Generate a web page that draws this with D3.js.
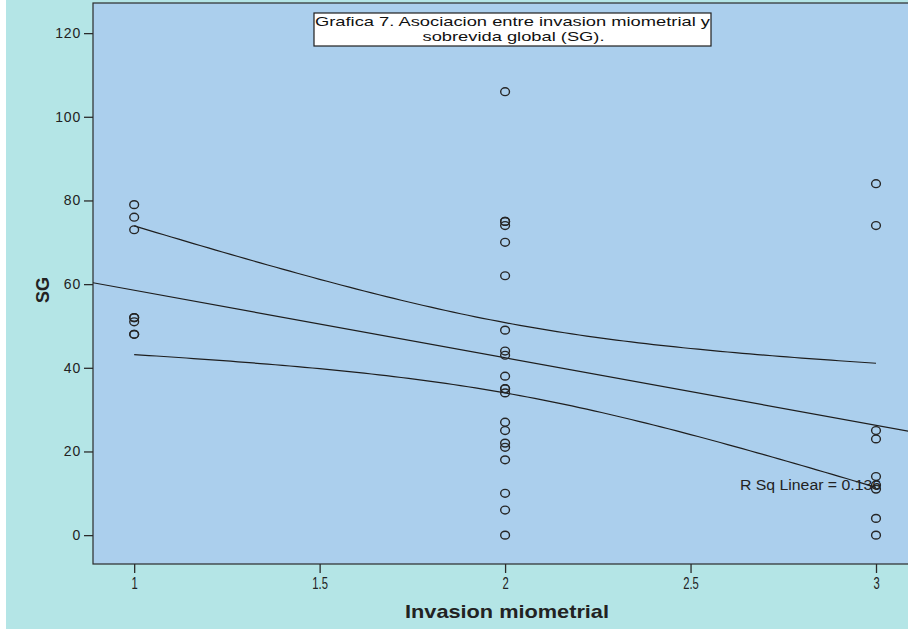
<!DOCTYPE html>
<html>
<head>
<meta charset="utf-8">
<script src="https://cdn.jsdelivr.net/npm/d3@7"></script>
<style>
  html, body { margin: 0; padding: 0; background: #ffffff; }
  svg { display: block; }
</style>
</head>
<body>
<svg id="chart" width="908" height="629"></svg>
<script>
// Survival (SG, months) by degree of myometrial invasion
const invasion1 = [79, 76, 73, 52, 52, 51, 48, 48];
const invasion2 = [106, 75, 75, 74, 70, 62, 49, 44, 43, 38, 35, 35, 34, 27, 25, 22, 21, 18, 10, 6, 0];
const invasion3 = [84, 74, 25, 23, 14, 12, 11, 4, 0];
const groupLevels = [1, 2, 3];
const xTicks = [1, 1.5, 2, 2.5, 3];
const yTicks = [0, 20, 40, 60, 80, 100, 120];
const titleLines = ["Grafica 7. Asociacion entre invasion miometrial y", "sobrevida global (SG)."];
const rSqLabel = "R Sq Linear = 0.136";

const points = [];
[invasion1, invasion2, invasion3].forEach((vals, i) => {
  vals.forEach(v => points.push({ x: groupLevels[i], y: v }));
});

const svg = d3.select("#chart");
const W = 908, H = 629;
const plot = { left: 93, top: 3, right: 922, bottom: 564 };
const sans = "Liberation Sans, Arial, sans-serif";

// squeeze a text element horizontally to imitate a condensed face
function condense(sel, k) {
  sel.each(function () {
    const w = this.getComputedTextLength();
    d3.select(this).attr("textLength", w * k).attr("lengthAdjust", "spacingAndGlyphs");
  });
}

// outer frame
svg.append("rect").attr("x", 6).attr("y", 0).attr("width", W - 6).attr("height", H)
  .attr("fill", "#b4e5e6");

const x = d3.scaleLinear().domain([0.889, 3.124]).range([plot.left, plot.right]);
const y = d3.scaleLinear().domain([-6.9, 127.2]).range([plot.bottom, plot.top]);

// plot area
svg.append("rect")
  .attr("x", plot.left).attr("y", plot.top)
  .attr("width", plot.right - plot.left).attr("height", plot.bottom - plot.top)
  .attr("fill", "#abcfed").attr("stroke", "#2b2b2b").attr("stroke-width", 1.2);

// axes
const yAxis = d3.axisLeft(y).tickValues(yTicks).tickSize(9).tickPadding(3).tickFormat(d3.format("d"));
const gy = svg.append("g").attr("transform", `translate(${plot.left},0)`).call(yAxis);
gy.select(".domain").remove();
gy.selectAll("line").attr("stroke", "#2b2b2b").attr("stroke-width", 1.3);
gy.selectAll("text").attr("font-family", sans)
  .attr("font-size", 14).attr("fill", "#222").attr("letter-spacing", 0.8);

const xAxis = d3.axisBottom(x).tickValues(xTicks).tickSize(9).tickPadding(4).tickFormat(d => String(d));
const gx = svg.append("g").attr("transform", `translate(0,${plot.bottom})`).call(xAxis);
gx.select(".domain").remove();
gx.selectAll("line").attr("stroke", "#2b2b2b").attr("stroke-width", 1.3);
gx.selectAll("text").attr("font-family", sans)
  .attr("font-size", 17).attr("fill", "#222").call(condense, 0.66);

// axis titles
svg.append("text").attr("x", 507).attr("y", 618).attr("text-anchor", "middle")
  .attr("font-family", sans).attr("font-weight", "bold")
  .attr("font-size", 19).attr("fill", "#222")
  .attr("textLength", 204).attr("lengthAdjust", "spacingAndGlyphs").text("Invasion miometrial");
svg.append("text").attr("transform", "translate(49,290) rotate(-90)").attr("text-anchor", "middle")
  .attr("font-family", sans).attr("font-weight", "bold")
  .attr("font-size", 18).attr("fill", "#222").text("SG");

// least-squares fit and 95% confidence band for the mean
const n = points.length;
const mx = d3.mean(points, d => d.x), my = d3.mean(points, d => d.y);
const sxx = d3.sum(points, d => (d.x - mx) ** 2);
const sxy = d3.sum(points, d => (d.x - mx) * (d.y - my));
const slope = sxy / sxx, intercept = my - slope * mx;
const sse = d3.sum(points, d => (d.y - intercept - slope * d.x) ** 2);
const se = Math.sqrt(sse / (n - 2));
const tCrit = 2.028;
const fit = v => intercept + slope * v;
const half = v => tCrit * se * Math.sqrt(1 / n + (v - mx) ** 2 / sxx);

const clipId = "plotClip";
svg.append("clipPath").attr("id", clipId).append("rect")
  .attr("x", plot.left).attr("y", plot.top)
  .attr("width", plot.right - plot.left).attr("height", plot.bottom - plot.top);

const line = d3.line().x(d => x(d[0])).y(d => y(d[1]));
const xs = d3.range(0, 101).map(i => groupLevels[0] + (groupLevels[2] - groupLevels[0]) * i / 100);
const lines = svg.append("g").attr("clip-path", `url(#${clipId})`)
  .attr("fill", "none").attr("stroke", "#1e1e1e").attr("stroke-width", 1.2);
lines.append("path").attr("d", line(x.domain().map(v => [v, fit(v)])));
lines.append("path").attr("d", line(xs.map(v => [v, fit(v) + half(v)])));
lines.append("path").attr("d", line(xs.map(v => [v, fit(v) - half(v)])));

// observations
svg.append("g").selectAll("ellipse").data(points).join("ellipse")
  .attr("cx", d => x(d.x)).attr("cy", d => y(d.y))
  .attr("rx", 4.4).attr("ry", 3.9)
  .attr("fill", "none").attr("stroke", "#262626").attr("stroke-width", 1.4);

// fit label
svg.append("text").attr("x", 740).attr("y", 490)
  .attr("font-family", sans).attr("font-size", 14)
  .attr("fill", "#222").attr("textLength", 141).attr("lengthAdjust", "spacingAndGlyphs").text(rSqLabel);

// title box
const tb = { x: 314, y: 13, w: 397, h: 33 };
svg.append("rect").attr("x", tb.x).attr("y", tb.y).attr("width", tb.w).attr("height", tb.h)
  .attr("fill", "#ffffff").attr("stroke", "#1e1e1e").attr("stroke-width", 1.2);
svg.append("text").attr("x", tb.x + tb.w / 2).attr("y", 25.5).attr("text-anchor", "middle")
  .attr("font-family", sans).attr("font-size", 13)
  .attr("fill", "#111").attr("textLength", 395).attr("lengthAdjust", "spacingAndGlyphs").text(titleLines[0]);
svg.append("text").attr("x", tb.x + tb.w / 2 + 1).attr("y", 40.5).attr("text-anchor", "middle")
  .attr("font-family", sans).attr("font-size", 13)
  .attr("fill", "#111").attr("textLength", 182).attr("lengthAdjust", "spacingAndGlyphs").text(titleLines[1]);
</script>
</body>
</html>
